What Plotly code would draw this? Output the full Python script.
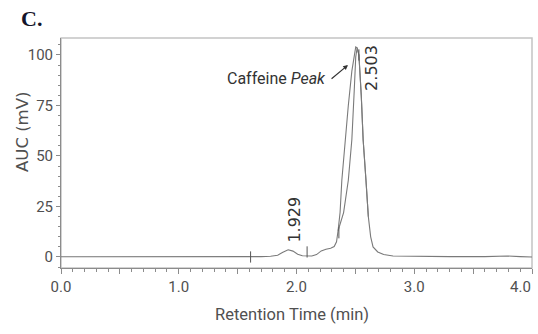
import plotly.graph_objects as go

# Chromatogram (retention time in min, detector response in mV)
rt_main = [0.00, 0.40, 0.80, 1.20, 1.50, 1.61, 1.70, 1.78, 1.84, 1.88, 1.929, 1.97,
           2.01, 2.05, 2.09, 2.13, 2.17, 2.21, 2.25, 2.29, 2.32, 2.34, 2.353, 2.37,
           2.385, 2.41, 2.44, 2.47, 2.495, 2.503, 2.515, 2.53, 2.55, 2.566, 2.59,
           2.61, 2.63, 2.65, 2.69, 2.74, 2.82, 3.00, 3.30, 3.60, 3.79, 3.90, 4.00]
auc_main = [0.1, 0.1, 0.0, 0.1, 0.1, 0.1, 0.2, 0.4, 0.9, 2.2, 3.6, 2.9,
            1.4, 0.6, 0.4, 0.5, 1.2, 3.0, 3.8, 4.3, 5.2, 7.5, 13.0, 22.0,
            38.0, 57.0, 75.0, 92.0, 102.0, 104.0, 103.5, 100.0, 80.0, 58.0, 38.0,
            20.0, 10.0, 5.0, 2.5, 1.2, 0.5, 0.3, 0.2, 0.2, 0.5, 0.2, 0.0]

# Second trace over the main peak (narrower leading edge)
rt_peak = [2.353, 2.40, 2.44, 2.47, 2.49, 2.503, 2.515, 2.53, 2.55, 2.566, 2.59, 2.61]
auc_peak = [13.0, 22.0, 38.0, 58.0, 82.0, 99.0, 103.5, 100.0, 80.0, 58.0, 38.0, 20.0]

# Integration event marks
event_rt = [1.61, 2.09, 2.36, 2.53]
event_auc = [0.0, 2.5, 12.0, 100.0]

# Labelled peaks
peak_rt = [1.929, 2.503]
peak_labels = ["1.929", "2.503"]

x_ticks = [0.0, 0.5, 1.0, 1.5, 2.0, 2.5, 3.0, 3.5, 4.0]
# the end label is drawn right-aligned at the axis end (see annotations)
x_ticktext = ["0.0", "", "1.0", "", "2.0", "", "3.0", "", ""]
x_end_label = "4.0"
y_ticks = [0, 25, 50, 75, 100]

line_col = "#7a7a7a"
axis_col = "#8c8c8c"
text_col = "#505050"

fig = go.Figure()
fig.add_trace(go.Scatter(x=rt_main, y=auc_main, mode="lines",
                         line=dict(color=line_col, width=1.1), hoverinfo="skip"))
fig.add_trace(go.Scatter(x=rt_peak, y=auc_peak, mode="lines",
                         line=dict(color=line_col, width=1.1), hoverinfo="skip"))
fig.add_trace(go.Scatter(x=event_rt, y=event_auc, mode="markers",
                         marker=dict(symbol="line-ns-open", size=8, color="#555555",
                                     line=dict(color="#555555", width=1)),
                         hoverinfo="skip"))

tick_font = dict(family="Roboto", size=15, color=text_col)
label_font = dict(family="DejaVu Sans", size=16, color="#333333")

fig.update_layout(
    width=538, height=334,
    margin=dict(l=61, r=6, t=38, b=66),
    paper_bgcolor="white", plot_bgcolor="white",
    showlegend=False,
    xaxis=dict(range=[0, 4], tickvals=x_ticks, ticktext=x_ticktext,
               showgrid=False, zeroline=False, showline=True, automargin=False,
               linecolor=axis_col, linewidth=1, ticks="outside", ticklen=5,
               tickcolor=axis_col, tickfont=tick_font,
               minor=dict(dtick=0.1, ticks="outside", ticklen=3, tickcolor=axis_col)),
    yaxis=dict(range=[-5.45, 108.4], tickvals=y_ticks, automargin=False,
               showgrid=False, zeroline=False, showline=True,
               linecolor=axis_col, linewidth=1, ticks="outside", ticklen=4,
               tickcolor=axis_col, tickfont=tick_font,
               minor=dict(dtick=5, ticks="outside", ticklen=2, tickcolor=axis_col)),
    shapes=[dict(type="rect", xref="paper", yref="paper", x0=0, x1=1, y0=0, y1=1,
                 line=dict(color="#c4c4c4", width=1.5), layer="below")],
)

annotations = [
    dict(text="<b>C.</b>", xref="paper", yref="paper", x=-0.09, y=1.085,
         xanchor="left", yanchor="middle", showarrow=False,
         font=dict(family="Liberation Serif", size=22, color="#14142a")),
    dict(text="AUC (mV)", xref="paper", yref="paper", x=-0.083, y=0.591,
         xanchor="center", yanchor="middle", textangle=-90, showarrow=False,
         font=dict(family="DejaVu Sans", size=16.5, color=text_col)),
    dict(text="Retention Time (min)", xref="paper", yref="paper", x=0.49, y=-0.2,
         xanchor="center", yanchor="middle", showarrow=False,
         font=dict(family="Roboto", size=16.5, color=text_col)),
    dict(text=x_end_label, x=x_ticks[-1], xref="x", yref="paper", y=-0.083,
         xanchor="right", yanchor="middle", xshift=1, showarrow=False,
         font=tick_font),
    dict(text="Caffeine <i>Peak</i>", x=2.267, y=88.6, xanchor="right", yanchor="middle",
         showarrow=False, font=dict(family="Roboto", size=16, color="#333333")),
    dict(text="", x=2.437, y=95, ax=2.285, ay=87.6, axref="x", ayref="y",
         showarrow=True, arrowhead=2, arrowsize=0.8, arrowwidth=1.2,
         arrowcolor="#333333"),
]
label_offsets = [(0.046, 18.3), (0.138, 93.6)]
for rt, txt, (dx, yv) in zip(peak_rt, peak_labels, label_offsets):
    annotations.append(dict(text=txt, x=rt + dx, y=yv, textangle=-90,
                            xanchor="center", yanchor="middle", showarrow=False,
                            font=label_font))
fig.update_layout(annotations=annotations)

fig.write_html("out.html")
